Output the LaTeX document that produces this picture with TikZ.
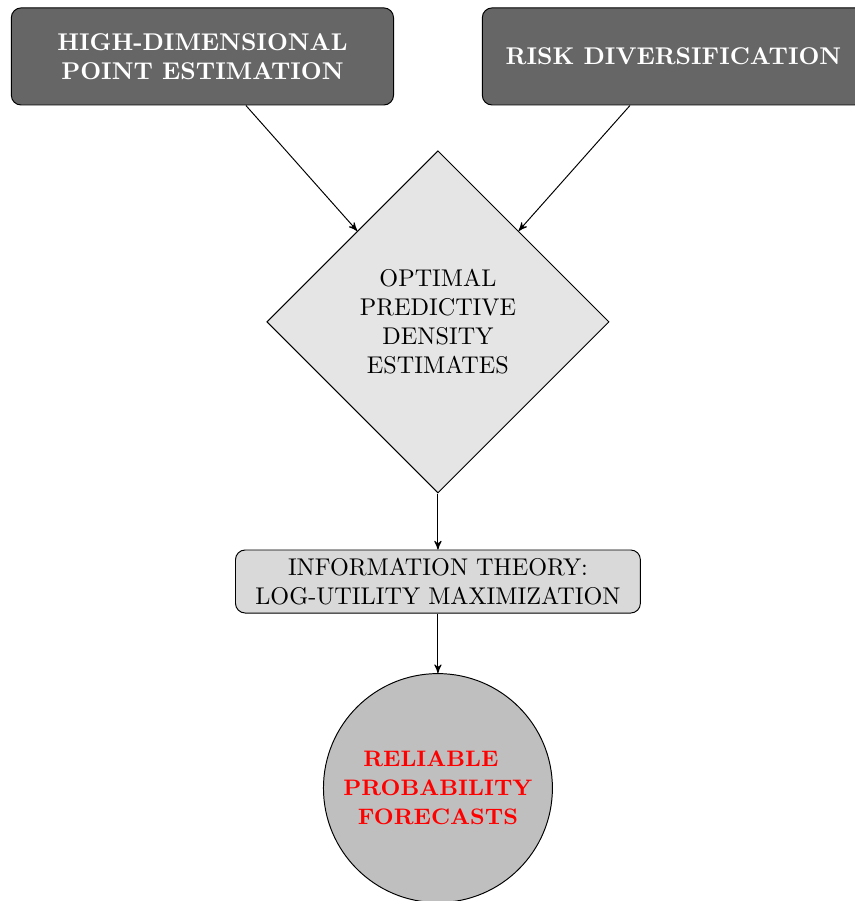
\documentclass[tikz,border=0pt]{standalone}
\usepackage{tikz}
\usetikzlibrary{shapes.geometric, positioning, arrows}
\tikzset{
>=stealth', % small bold arrow heads
node distance=3cm, % default distance between centres
topbox/.style={draw, rounded corners, fill=black!60, text=white, font=\bfseries, align=center, minimum width=5.55cm, minimum height=1.41cm}, % dark input boxes
decision/.style={diamond, draw, fill=gray!20, align=center, minimum size=4.97cm, inner sep=0pt}, % centre diamond
infobox/.style={draw, rounded corners, fill=gray!30, align=center, minimum width=5.88cm, minimum height=0.915cm}, % theory box
result/.style={circle, draw, fill=gray!50, text=red, font=\fontsize{9.25}{12}\selectfont\bfseries, align=center, minimum size=3.325cm, inner sep=0pt}, % final circle
}

\begin{document}
\begin{tikzpicture}
                \clip (-6.36,-8.41) rectangle (6.055,4.675);

                \node[decision] (dens) at (0,0) {OPTIMAL\\PREDICTIVE\\DENSITY\\ESTIMATES};
                \node[topbox] (hd) at (-3.42,3.855) {HIGH-DIMENSIONAL\\POINT ESTIMATION};
                \node[topbox] (rd) at (3.42,3.855) {RISK DIVERSIFICATION};
                \node[infobox, below of=dens, node distance=3.77cm] (info) {INFORMATION THEORY:\\LOG-UTILITY MAXIMIZATION};
                \node[result, below of=info] (rpf) {RELIABLE\hspace*{5.8pt}\\PROBABILITY\hspace*{4.5pt}\\FORECASTS};

                \draw[->] (hd) -- (dens);
                \draw[->] (rd) -- (dens);
                \draw[->] (dens) -- (info);
                \draw[->] (info) -- (rpf);
            \end{tikzpicture}
\end{document}
